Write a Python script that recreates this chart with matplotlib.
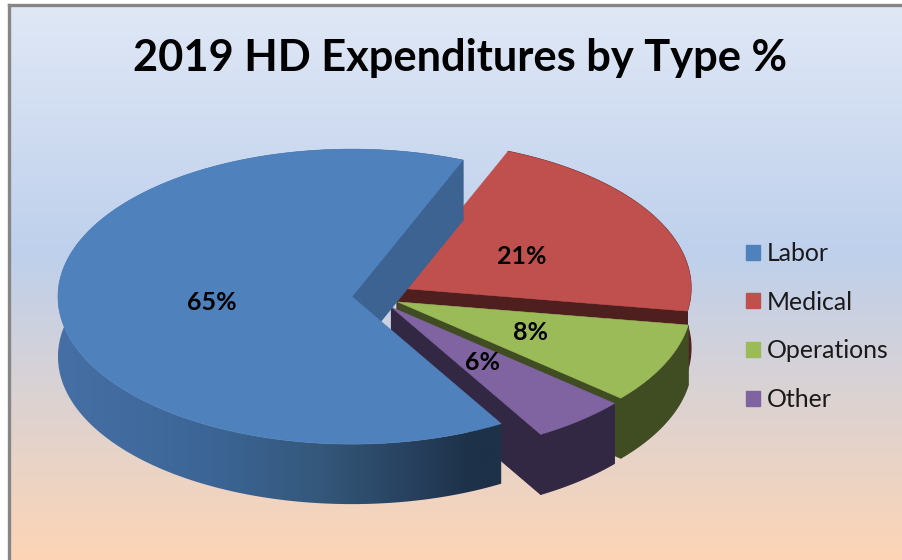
import numpy as np
import matplotlib
matplotlib.use("Agg")
import matplotlib.pyplot as plt
from matplotlib.patches import Polygon, Patch
from matplotlib.colors import LinearSegmentedColormap

# ---- data ----
title = "2019 HD Expenditures by Type %"
categories = ["Labor", "Medical", "Operations", "Other"]
values = [65, 21, 8, 6]
# Excel's 3-D view distorts each slice's apparent sweep
perspective = [0.9944, 1.016, 1.10, 0.87]

# ---- style ----
top_colors = ["#4f81bd", "#c0504d", "#9bbb59", "#8064a2"]
wall_colors = ["#3c6391", "#4f1f1f", "#404c22", "#332843"]
label_pos = [(212, 302), (522, 256), (530, 332), (482, 363)]
W, H = 902, 560
CX, CY, RX, RY, DEPTH = 376, 295.5, 294, 147.5, 60
EXPLODE, EXPLODE_Y = 0.082, 1.27
START = 67.8
DRAW_ORDER = [1, 2, 3, 0]

plt.rcParams["font.family"] = ["Lato", "DejaVu Sans"]
fig = plt.figure(figsize=(W / 100, H / 100), dpi=100, facecolor="white")
ax = fig.add_axes([0, 0, 1, 1])
ax.set_xlim(0, W)
ax.set_ylim(H, 0)
ax.axis("off")

# background
bg = LinearSegmentedColormap.from_list(
    "bg", [(0, "#e0e8f6"), (0.45, "#bed0ec"), (1, "#fdd5b5")])
ax.imshow(np.linspace(0, 1, 256)[:, None], cmap=bg, extent=(8.5, W + 2, H, 4.5),
          aspect="auto", zorder=0)
ax.plot([8.5, 8.5], [H, 4.5], color="#868686", lw=2.4, zorder=1, solid_capstyle="projecting")
ax.plot([8.5, W], [4.5, 4.5], color="#868686", lw=2.4, zorder=1, solid_capstyle="projecting")

# slice angles, clockwise from START, with Medical first and Labor last
order = [1, 2, 3, 0]
sweeps = {i: values[i] * 3.6 * perspective[i] for i in order}
scale = 360 / sum(sweeps.values())
angles = {}
cursor = START
for i in order:
    angles[i] = (cursor, cursor - sweeps[i] * scale)
    cursor = angles[i][1]

wall_cmap = LinearSegmentedColormap.from_list(
    "labor", [(0, "#4670a5"), (0.35, "#3c6596"), (0.6, "#345779"),
              (0.8, "#27405e"), (0.93, "#1d3148"), (1, "#1d3148")])

z = 2
for i in DRAW_ORDER:
    a0, a1 = angles[i]
    mid = np.radians((a0 + a1) / 2)
    ox = CX + EXPLODE * RX * np.cos(mid)
    oy = CY - EXPLODE * EXPLODE_Y * RY * np.sin(mid)
    t = np.radians(np.linspace(a0, a1, 360))
    xs = ox + RX * np.cos(t)
    ys = oy - RY * np.sin(t)

    # outer wall
    strip = np.column_stack([np.r_[xs, xs[::-1]], np.r_[ys, ys[::-1] + DEPTH]])
    if i == 0:
        clip = Polygon(strip, closed=True, transform=ax.transData, fc="none", ec="none")
        ax.add_patch(clip)
        im = ax.imshow(np.linspace(0, 1, 256)[None, :], cmap=wall_cmap,
                       extent=(58, 503, H, 0), aspect="auto", zorder=z)
        im.set_clip_path(clip)
    else:
        ax.add_patch(Polygon(strip, closed=True, fc=wall_colors[i], ec=wall_colors[i],
                             lw=0.8, zorder=z))
    # the cut wall that faces the viewer
    wall = [(ox, oy), (xs[-1], ys[-1]), (xs[-1], ys[-1] + DEPTH), (ox, oy + DEPTH)]
    ax.add_patch(Polygon(wall, closed=True, fc=wall_colors[i], ec=wall_colors[i],
                         lw=0.8, zorder=z + 0.2))
    # top face
    top = np.column_stack([np.r_[ox, xs], np.r_[oy, ys]])
    ax.add_patch(Polygon(top, closed=True, fc=top_colors[i], ec=top_colors[i],
                         lw=0.4, zorder=z + 0.5))
    z += 1

ax.set_xlim(0, W)
ax.set_ylim(H, 0)

# data labels
for v, (x, y) in zip(values, label_pos):
    ax.text(x, y, f"{v}%", ha="center", va="center", fontsize=18, fontweight="bold",
            color="black", zorder=20)

# title
ax.text(460, 58, title, ha="center", va="center", fontsize=31.2, fontweight="bold",
        color="black", zorder=20)

# legend
handles = [Patch(fc=c, ec=c) for c in top_colors]
ax.legend(handles, categories, loc="center left", bbox_to_anchor=(746 / W, 1 - 326.5 / H),
          bbox_transform=fig.transFigure, frameon=False, fontsize=17.9,
          handlelength=0.56, handleheight=0.56, handletextpad=0.26,
          labelspacing=1.03, borderpad=0, borderaxespad=0, labelcolor="#1a1a1a")

fig.savefig("out.png", dpi=100, facecolor="white")
